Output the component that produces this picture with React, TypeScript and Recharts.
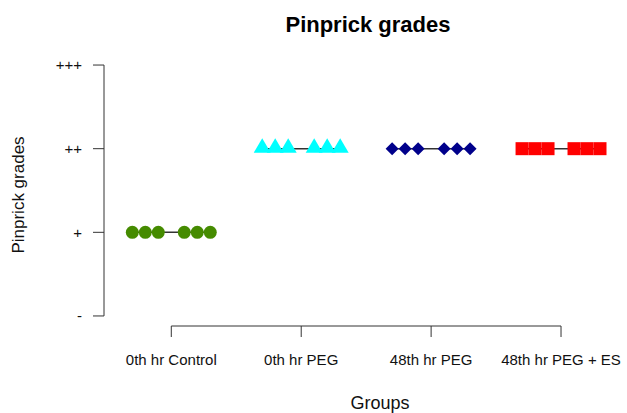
import React from 'react';
import { ScatterChart, Scatter, XAxis, YAxis, ReferenceLine } from 'recharts';

const groups = ['0th hr Control', '0th hr PEG', '48th hr PEG', '48th hr PEG + ES'];
const groupPositions = [1, 2, 3, 4];
const dotOffsets = [-0.3, -0.2, -0.1, 0.1, 0.2, 0.3];
const controlGrades = [1, 1, 1, 1, 1, 1];
const peg0Grades = [2, 2, 2, 2, 2, 2];
const peg48Grades = [2, 2, 2, 2, 2, 2];
const pegEs48Grades = [2, 2, 2, 2, 2, 2];
const gradeTicks = [0, 1, 2, 3];
const gradeLabels = ['-', '+', '++', '+++'];

const X_MIN = 0.482;
const X_MAX = 4.26;
const Y_MIN = -0.12;
const Y_MAX = 3.12;

const build = (gi: number, grades: number[]) =>
  grades.map((g, i) => ({ x: groupPositions[gi] + dotOffsets[i], y: g }));

const controlData = build(0, controlGrades);
const peg0Data = build(1, peg0Grades);
const peg48Data = build(2, peg48Grades);
const pegEs48Data = build(3, pegEs48Grades);

const Circle = (p: any) => <circle cx={p.cx} cy={p.cy} r={6.5} fill="#458B00" />;
const Tri = (p: any) => (
  <polygon
    points={`${p.cx - 8.5},${p.cy + 4} ${p.cx + 8.5},${p.cy + 4} ${p.cx},${p.cy - 10.5}`}
    fill="#00FFFF"
  />
);
const Diamond = (p: any) => (
  <polygon
    points={`${p.cx},${p.cy - 6.5} ${p.cx + 6.5},${p.cy} ${p.cx},${p.cy + 6.5} ${p.cx - 6.5},${p.cy}`}
    fill="#00008B"
  />
);
const Square = (p: any) => (
  <rect x={p.cx - 6.5} y={p.cy - 6.5} width={13} height={13} fill="#FF0000" />
);

const lineStyle = { stroke: '#333', strokeWidth: 1.5 };
const font = "'Liberation Sans', Arial, sans-serif";

export default function App() {
  return (
    <div style={{ position: 'absolute', left: 0, top: 0, width: 627, height: 413, background: '#fff' }}>
      <ScatterChart width={627} height={413} margin={{ top: 55, right: 27, bottom: 0, left: 0 }}>
        <XAxis
          type="number"
          dataKey="x"
          domain={[X_MIN, X_MAX]}
          ticks={groupPositions}
          tickFormatter={(v: number) => groups[groupPositions.indexOf(v)] ?? ''}
          axisLine={false}
          tickLine={{ stroke: '#333' }}
          tickSize={11}
          tickMargin={17}
          height={87}
          interval={0}
          tick={{ fill: '#111', fontSize: 15, fontFamily: font }}
        />
        <YAxis
          type="number"
          dataKey="y"
          domain={[Y_MIN, Y_MAX]}
          ticks={gradeTicks}
          tickFormatter={(v: number) => gradeLabels[gradeTicks.indexOf(v)] ?? ''}
          axisLine={false}
          tickLine={{ stroke: '#333' }}
          tickSize={11}
          tickMargin={11}
          width={104}
          interval={0}
          tick={{ fill: '#111', fontSize: 15, fontFamily: font }}
        />
        <ReferenceLine
          segment={[{ x: X_MIN, y: gradeTicks[0] }, { x: X_MIN, y: gradeTicks[gradeTicks.length - 1] }]}
          stroke="#333"
          strokeWidth={1}
          ifOverflow="visible"
        />
        <ReferenceLine
          segment={[{ x: groupPositions[0], y: Y_MIN }, { x: groupPositions[groupPositions.length - 1], y: Y_MIN }]}
          stroke="#333"
          strokeWidth={1}
          ifOverflow="visible"
        />
        <Scatter data={controlData} shape={Circle} line={lineStyle} isAnimationActive={false} />
        <Scatter data={peg0Data} shape={Tri} line={lineStyle} isAnimationActive={false} />
        <Scatter data={peg48Data} shape={Diamond} line={lineStyle} isAnimationActive={false} />
        <Scatter data={pegEs48Data} shape={Square} line={lineStyle} isAnimationActive={false} />
        <text x={368} y={32} textAnchor="middle" fontFamily={font} fontWeight="bold" fontSize={22} fill="#000">
          Pinprick grades
        </text>
        <text x={380} y={409} textAnchor="middle" fontFamily={font} fontSize={18} fill="#111">
          Groups
        </text>
        <text
          x={24}
          y={195}
          transform="rotate(-90 24 195)"
          textAnchor="middle"
          fontFamily={font}
          fontSize={17}
          fill="#111"
        >
          Pinprick grades
        </text>
      </ScatterChart>
    </div>
  );
}
